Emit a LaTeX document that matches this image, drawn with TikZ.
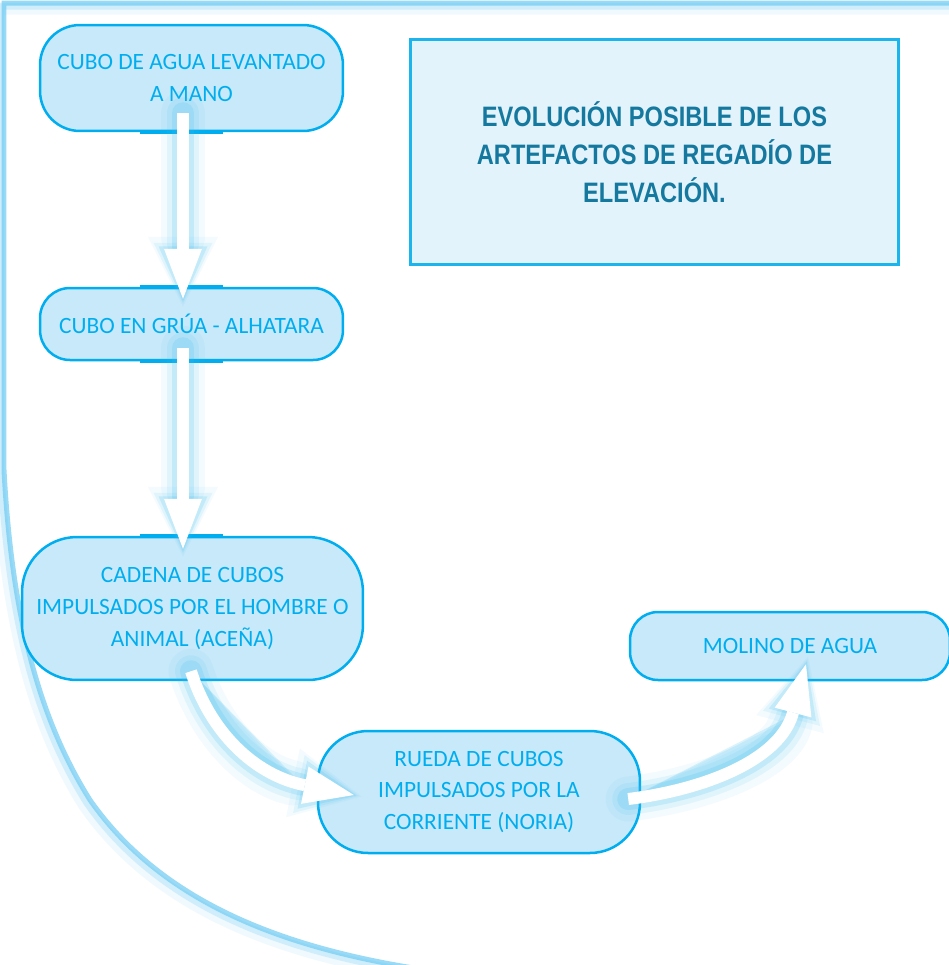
\documentclass[tikz,border=0pt]{standalone}
\usepackage{fontspec}
\setmainfont{Carlito}
\newfontfamily\titlefont[FakeStretch=0.84]{Liberation Sans}
\usetikzlibrary{arrows.meta,calc}
\definecolor{nodeblue}{HTML}{00AEEF}
\definecolor{nodefill}{HTML}{C8E9F9}
\definecolor{titlefill}{HTML}{E2F3FB}
\definecolor{titleline}{HTML}{1CB4EC}
\definecolor{titletext}{HTML}{15799F}
\definecolor{glowblue}{HTML}{3DBDF0}
\definecolor{frameblue}{HTML}{6ECBF3}
\tikzset{
  stage/.style={draw=nodeblue, line width=0.05cm, fill=nodefill, text=nodeblue,
    align=center, inner sep=0pt, font=\fontsize{13.3}{18.1}\selectfont},
  titlebox/.style={draw=titleline, line width=0.06cm, fill=titlefill, text=titletext,
    align=center, inner sep=0pt, font=\titlefont\bfseries\fontsize{16}{21.6}\selectfont},
  glowwide/.style={draw=glowblue, fill=glowblue, line width=0.90cm, opacity=0.06, line cap=round,
    shorten >=-0.16cm, -{Triangle[width=1.4cm,length=1.4cm,line width=0pt]}},
  glowmid/.style={draw=glowblue, fill=glowblue, line width=0.64cm, opacity=0.10, line cap=round,
    shorten >=-0.1cm, -{Triangle[width=1.18cm,length=1.22cm,line width=0pt]}},
  glownarrow/.style={draw=glowblue, fill=glowblue, line width=0.44cm, opacity=0.18, line cap=round,
    shorten >=-0.05cm, -{Triangle[width=0.98cm,length=1.1cm,line width=0pt]}},
  fatarrow/.style={draw=white, line width=0.24cm,
    -{Triangle[width=0.76cm,length=1cm,line width=0pt]}},
  edgemark/.style={draw=nodeblue, line width=0.08cm},
  framefar/.style={draw=frameblue, line width=0.22cm, opacity=0.10},
  framenear/.style={draw=frameblue, line width=0.14cm, opacity=0.25},
  framecore/.style={draw=frameblue, line width=0.10cm, opacity=0.7}
}
\begin{document}
\begin{tikzpicture}[x=0.02cm,y=-0.02cm]
\useasboundingbox (0,0) rectangle (949,965);
\fill[white] (0,0) rectangle (949,965);

% glowing frame (sharp inner edge, fading outwards)
\foreach \s/\d in {framefar/6,framenear/3,framecore/0}{
  \begin{scope}[shift={(-\d,\d)}]
  \draw[\s] (960,3) -- (4,3) -- (4,470) .. controls (12,620) and (40,720) .. (90,800)
     .. controls (160,900) and (280,950) .. (440,972);
  \end{scope}
}

% nodes
\node[stage, minimum width=6.06cm, minimum height=2.12cm, rounded corners=0.8cm] (n1) at (191.5,78)
  {CUBO DE AGUA LEVANTADO\\A MANO};
\node[stage, minimum width=6.06cm, minimum height=1.44cm, rounded corners=0.6cm] (n2) at (191.5,324)
  {CUBO EN GRÚA - ALHATARA};
\node[stage, minimum width=6.82cm, minimum height=2.86cm, rounded corners=1.1cm] (n3) at (192.5,608.5)
  {CADENA DE CUBOS\\IMPULSADOS POR EL HOMBRE O\\ANIMAL (ACEÑA)};
\node[stage, minimum width=6.44cm, minimum height=2.44cm, rounded corners=1.0cm] (n4) at (479,792)
  {RUEDA DE CUBOS\\IMPULSADOS POR LA\\CORRIENTE (NORIA)};
\node[stage, minimum width=6.4cm, minimum height=1.36cm, rounded corners=0.56cm] (n5) at (790,646)
  {MOLINO DE AGUA};
\node[titlebox, minimum width=9.78cm, minimum height=4.52cm] (title) at (654.5,152)
  {EVOLUCIÓN POSIBLE DE LOS\\ARTEFACTOS DE REGADÍO DE\\ELEVACIÓN.};

% darker border marks near arrows
\draw[edgemark] ($(n1.south)+(-51.5,0)$) -- ($(n1.south)+(31.5,0)$);
\draw[edgemark] ($(n2.north)+(-51.5,0)$) -- ($(n2.north)+(31.5,0)$);
\draw[edgemark] ($(n2.south)+(-51.5,0)$) -- ($(n2.south)+(31.5,0)$);
\draw[edgemark] ($(n3.north)+(-52.5,0)$) -- ($(n3.north)+(30.5,0)$);

% arrow end points
\coordinate (a1s) at ($(n1.south)+(-8.5,-19)$);
\coordinate (a1e) at ($(n2.north)+(-8.5,12)$);
\coordinate (a2s) at ($(n2.south)+(-8.5,-13)$);
\coordinate (a2e) at ($(n3.north)+(-9.5,13)$);
\coordinate (a3s) at ($(n3.south)+(-1.5,-10)$);
\coordinate (a3e) at ($(n4.west)+(37,3)$);
\coordinate (a4s) at ($(n4.east)+(-13,7)$);
\coordinate (a4e) at ($(n5.south)+(16,-17)$);

% glows
\foreach \s in {glowwide,glowmid,glownarrow}{
  \draw[\s] (a1s) -- (a1e);
  \draw[\s] (a2s) -- (a2e);
  \draw[\s] (a3s) .. controls +(19,60) and +(-100,-20) .. (a3e);
  \draw[\s] (a4s) .. controls +(73,-9) and +(-26,97) .. (a4e);
}

% white arrows
\draw[fatarrow] (a1s) -- (a1e);
\draw[fatarrow] (a2s) -- (a2e);
\draw[fatarrow] (a3s) .. controls +(19,60) and +(-100,-20) .. (a3e);
\draw[fatarrow] (a4s) .. controls +(73,-9) and +(-26,97) .. (a4e);
\end{tikzpicture}
\end{document}
